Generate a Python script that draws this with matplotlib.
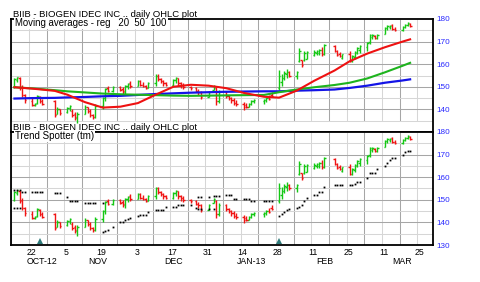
import numpy as np
import pandas as pd
import matplotlib
matplotlib.use("Agg")
import matplotlib.pyplot as plt
import matplotlib.dates as mdates

plt.rcParams['font.family'] = ['Liberation Sans', 'DejaVu Sans']

# ── data ─────────────────────────────────────────────────────
holidays = ['2012-10-29', '2012-10-30', '2012-11-22', '2012-12-25',
            '2013-01-01', '2013-01-21', '2013-02-18']
days = pd.bdate_range('2012-10-15', '2013-03-21')
days = days[~days.isin(pd.to_datetime(holidays))]

opens = [150.0, 153.2, 154.0, 150.0, 146.5, 143.5, 142.0, 142.8, 145.5, 143.5, 143.5,
         138.0, 140.0, 138.8, 140.5, 139.5, 138.0, 136.0, 138.0, 141.0, 139.5, 137.5,
         136.5, 141.5, 145.0, 149.5, 148.0, 150.0, 149.0, 147.5, 150.5, 151.5,
         150.5, 152.5, 151.0, 150.5, 149.5, 151.5, 155.0, 153.5, 152.5, 151.5,
         151.0, 153.0, 154.0, 151.5, 150.8, 150.0, 149.5, 148.0, 147.5, 145.5,
         148.5, 149.5, 143.5, 147.5, 146.0, 145.0, 144.0, 143.0, 142.5, 142.0,
         141.2, 142.5, 143.5, 143.5, 144.0, 145.0, 146.5, 149.5, 152.0, 154.0, 155.5,
         156.5, 155.0, 161.5, 162.0, 162.0, 162.5, 164.0, 165.0, 165.0, 166.5,
         164.5, 168.0, 166.0, 164.5, 162.8, 164.5, 161.5, 163.0, 165.0,
         166.5, 167.5, 170.0, 172.0, 172.5, 171.5, 173.5, 176.0, 176.5, 177.2,
         175.5, 175.0, 176.5, 177.5, 178.0]
highs = [154.0, 154.5, 154.3, 151.0, 147.0, 145.0, 143.0, 146.5, 146.0, 144.5, 144.0,
         141.0, 140.3, 141.0, 142.0, 140.0, 139.0, 139.0, 142.0, 141.2, 140.0, 138.0,
         142.5, 145.5, 149.5, 150.5, 150.5, 150.2, 150.0, 151.0, 151.8, 152.5,
         153.0, 153.0, 152.0, 151.0, 152.0, 155.5, 155.5, 154.0, 153.0, 152.0,
         153.5, 154.5, 154.0, 152.0, 151.5, 150.5, 150.0, 149.0, 148.0, 148.0,
         151.0, 150.0, 148.5, 148.0, 146.5, 145.5, 145.0, 144.0, 143.3, 143.0,
         143.0, 144.2, 144.7, 144.7, 145.5, 146.4, 147.7, 157.3, 155.5, 157.0, 158.0,
         156.8, 157.0, 167.0, 162.0, 166.0, 166.0, 166.3, 166.5, 166.8, 167.5,
         169.0, 168.4, 166.5, 165.4, 164.6, 166.0, 164.0, 166.0, 167.5,
         168.4, 169.8, 173.5, 173.5, 173.0, 173.5, 176.5, 177.2, 177.5, 177.8,
         176.5, 177.0, 177.9, 178.6, 178.3]
lows = [149.5, 152.0, 148.5, 145.5, 143.0, 141.5, 141.5, 142.5, 143.0, 142.0, 136.5,
        138.0, 137.5, 138.5, 139.5, 136.5, 135.5, 134.0, 138.0, 138.5, 136.5, 135.8,
        136.0, 140.0, 143.5, 147.5, 147.5, 148.0, 147.0, 146.5, 149.2, 149.5,
        150.5, 150.5, 149.8, 149.0, 149.5, 150.5, 152.5, 151.5, 150.5, 150.5,
        150.5, 151.5, 150.5, 149.5, 149.0, 148.7, 147.5, 146.5, 144.5, 145.5,
        148.5, 142.0, 143.0, 145.0, 144.0, 143.0, 142.0, 141.5, 139.7, 140.5,
        141.0, 142.0, 143.0, 142.5, 143.3, 144.2, 145.5, 148.5, 150.5, 153.0, 154.0,
        154.5, 153.5, 161.0, 158.8, 161.5, 162.4, 163.5, 164.0, 164.0, 163.5,
        164.0, 165.4, 163.5, 163.2, 162.4, 160.9, 161.0, 162.5, 164.5,
        165.0, 166.0, 169.0, 171.0, 171.0, 171.0, 173.5, 175.0, 175.5, 175.0,
        174.5, 174.5, 176.0, 176.8, 176.5]
closes = [153.5, 154.2, 149.5, 146.5, 144.0, 142.0, 142.6, 145.8, 143.8, 142.5, 137.5,
          140.3, 138.5, 140.5, 141.5, 137.5, 136.5, 138.0, 141.0, 139.5, 137.5, 136.5,
          141.5, 145.0, 149.0, 148.0, 150.0, 148.8, 148.0, 150.5, 151.3, 150.2,
          152.5, 151.0, 150.3, 149.5, 151.5, 155.0, 153.5, 152.5, 151.5, 151.0,
          153.0, 154.0, 151.5, 150.8, 150.0, 149.5, 148.0, 147.5, 145.5, 147.5,
          150.5, 143.5, 147.5, 146.0, 145.0, 144.0, 143.0, 142.5, 141.0, 141.2,
          142.5, 143.5, 144.3, 144.0, 145.0, 144.6, 146.0, 155.0, 154.0, 156.0, 156.5,
          155.0, 156.5, 166.0, 159.5, 165.0, 165.5, 165.5, 166.0, 166.3, 164.5,
          168.5, 166.0, 164.0, 163.5, 164.3, 161.5, 163.5, 165.5, 167.0,
          168.0, 169.5, 173.0, 172.8, 171.5, 173.0, 176.0, 176.8, 177.0, 175.5,
          175.0, 176.5, 177.5, 178.2, 177.0]

# moving averages read at weekly points
ma_dates = ['2012-10-15', '2012-10-22', '2012-10-31', '2012-11-05', '2012-11-12',
            '2012-11-19', '2012-11-26', '2012-12-03', '2012-12-10', '2012-12-17',
            '2012-12-24', '2012-12-31', '2013-01-07', '2013-01-14', '2013-01-22',
            '2013-01-28', '2013-02-04', '2013-02-11', '2013-02-19', '2013-02-25',
            '2013-03-04', '2013-03-11', '2013-03-18', '2013-03-21']
ma20 = [149.8, 149.2, 148.2, 146.5, 143.2, 140.8, 141.2, 142.8, 146.5, 150.0,
        150.9, 150.5, 149.4, 147.3, 145.6, 145.2, 148.3, 152.7, 157.2, 161.3,
        164.7, 167.5, 170.0, 171.0]
ma50 = [149.8, 149.3, 148.5, 148.0, 147.5, 147.0, 146.7, 146.5, 146.3, 146.1,
        146.0, 146.1, 146.2, 146.3, 146.4, 147.6, 148.8, 149.8, 150.8, 151.8,
        153.7, 156.4, 159.3, 160.6]
ma100 = [144.8, 145.0, 145.1, 145.3, 145.5, 145.8, 146.0, 146.4, 146.8, 147.1,
         147.4, 147.6, 147.8, 147.9, 148.0, 148.0, 148.3, 148.5, 148.8, 149.5,
         150.5, 151.8, 152.8, 153.3]

# trend spotter stops
ts_up_dates = ['2012-10-15', '2012-10-16', '2012-10-17', '2012-10-18', '2012-10-19',
               '2012-10-22', '2012-10-23', '2012-10-24', '2012-10-25', '2012-10-26',
               '2012-10-31', '2012-11-01', '2012-11-02', '2012-11-05', '2012-11-06',
               '2012-11-07', '2012-11-08', '2012-11-09', '2012-11-12', '2012-11-13',
               '2012-11-14', '2012-11-15', '2012-11-16', '2012-11-19',
               '2012-12-27', '2012-12-28', '2012-12-31', '2013-01-02', '2013-01-03',
               '2013-01-04', '2013-01-07', '2013-01-08', '2013-01-09', '2013-01-10',
               '2013-01-11', '2013-01-14', '2013-01-15', '2013-01-16', '2013-01-17',
               '2013-01-18', '2013-01-22', '2013-01-23', '2013-01-24', '2013-01-25']
ts_up = [154.3, 154.3, 154.3, 153.6, 153.6, 153.6, 153.6, 153.6, 153.6, 153.6,
         152.9, 152.9, 152.9, 151.4, 149.6, 149.6, 149.6, 149.6, 148.4, 148.4,
         148.4, 148.4, 148.4, 148.4,
         151.4, 151.4, 151.4, 151.7, 151.7, 151.7, 152.1, 152.1, 152.1, 150.5,
         150.5, 150.2, 150.2, 150.2, 149.6, 149.6, 149.6, 149.6, 149.6, 149.6]
ts_dn_dates = ['2012-10-15', '2012-10-16', '2012-10-17',
               '2012-11-19', '2012-11-20', '2012-11-21', '2012-11-23', '2012-11-26',
               '2012-11-27', '2012-11-28', '2012-11-29', '2012-11-30', '2012-12-03',
               '2012-12-04', '2012-12-05', '2012-12-06', '2012-12-07', '2012-12-10',
               '2012-12-11', '2012-12-12', '2012-12-13', '2012-12-14', '2012-12-17',
               '2012-12-18', '2012-12-19', '2012-12-20', '2012-12-21', '2012-12-24',
               '2012-12-26', '2012-12-27', '2012-12-28', '2012-12-31', '2013-01-02',
               '2013-01-28', '2013-01-29', '2013-01-30', '2013-01-31', '2013-02-01',
               '2013-02-04', '2013-02-05', '2013-02-06', '2013-02-07', '2013-02-08',
               '2013-02-11', '2013-02-12', '2013-02-13', '2013-02-14', '2013-02-15',
               '2013-02-19', '2013-02-20', '2013-02-21', '2013-02-22', '2013-02-25',
               '2013-02-26', '2013-02-27', '2013-02-28', '2013-03-01', '2013-03-04',
               '2013-03-05', '2013-03-06', '2013-03-07', '2013-03-08', '2013-03-11',
               '2013-03-12', '2013-03-13', '2013-03-14', '2013-03-15', '2013-03-18',
               '2013-03-19', '2013-03-20', '2013-03-21']
ts_dn = [146.5, 146.5, 146.5,
         135.9, 136.2, 136.6, 138.1, 140.0, 140.3, 141.0, 141.4, 142.0, 143.0,
         143.3, 143.3, 143.3, 144.7, 145.5, 145.5, 145.5, 145.5, 146.9, 146.9,
         146.9, 147.5, 147.5, 147.5, 147.5, 146.2, 146.0, 145.8, 145.8, 145.8,
         143.0, 143.5, 144.5, 145.3, 146.0, 146.2, 146.8, 147.7, 149.5, 150.6,
         152.1, 152.1, 153.6, 153.6, 155.8, 156.5, 156.5, 156.5, 156.5, 156.5,
         156.5, 157.2, 158.0, 158.0, 159.5, 161.7, 161.7, 161.7, 163.5, 165.0,
         166.2, 167.5, 168.4, 168.4, 169.9, 171.0, 171.4, 171.4]

event_dates = ['2012-10-25', '2013-01-28']

tick_days = pd.date_range('2012-10-22', '2013-03-25', freq='14D')
tick_labels = ['22', '5', '19', '3', '17', '31', '14', '28', '11', '25', '11', '25']
month_dates = ['2012-10-26', '2012-11-17', '2012-12-17', '2013-01-17', '2013-02-15', '2013-03-18']
month_labels = ['OCT-12', 'NOV', 'DEC', 'JAN-13', 'FEB', 'MAR']

# ── figure ───────────────────────────────────────────────────
RED, GREEN = "#f01414", "#14c814"
GRID_D, GRID_L = "#a6a6a6", "#d6d6d6"
LBLUE = "#2a2aff"

x = mdates.date2num(days)
o, h, l, c = map(np.array, (opens, highs, lows, closes))
bar_col = np.where(c >= o, GREEN, RED)

fig = plt.figure(figsize=(4.8, 2.82), dpi=100)
W, H = 480, 282
left, right = 10.7 / W, 433.3 / W
ax1 = fig.add_axes([left, 1 - 132 / H, right - left, 113 / H])
ax2 = fig.add_axes([left, 1 - 245 / H, right - left, 113 / H])

x0 = mdates.date2num(pd.Timestamp('2012-10-22'))
xlim = (x0 - 8.5, x0 + 159.2)
mondays = pd.date_range('2012-10-15', '2013-03-25', freq='W-MON')

for ax, ylo in ((ax1, 135), (ax2, 130)):
    ax.set_xlim(*xlim)
    ax.set_ylim(130, 180)
    for i, m in enumerate(mondays):
        col = GRID_D if i % 2 == 0 else GRID_L
        ax.vlines(mdates.date2num(m) - 1.2, ylo, 180, colors=col, lw=0.75, zorder=0)
    for yv in range(135, 180, 5):
        ax.axhline(yv, color=GRID_D if yv % 10 == 0 else GRID_L, lw=0.75, zorder=0)
    ax.vlines(x, l, h, colors=bar_col, lw=1.0, zorder=3)
    ax.hlines(o, x - 0.55, x, colors=bar_col, lw=1.0, zorder=3)
    ax.hlines(c, x, x + 0.55, colors=bar_col, lw=1.0, zorder=3)
    for s in ax.spines.values():
        s.set_linewidth(1.3)
    ax.yaxis.tick_right()
    ax.tick_params(axis='y', length=0, pad=2.6, labelsize=5.9, labelcolor=LBLUE)
    ax.tick_params(axis='x', length=0)

ax1.set_yticks([140, 150, 160, 170, 180])
ax2.set_yticks([130, 140, 150, 160, 170, 180])
ax1.set_xticks([])

# moving averages
mx = mdates.date2num(pd.to_datetime(ma_dates))
ax1.plot(mx, ma100, color="#1414e6", lw=1.6, zorder=4)
ax1.plot(mx, ma50, color="#1eb41e", lw=1.5, zorder=4)
ax1.plot(mx, ma20, color="#ee1111", lw=1.5, zorder=5)

# trend spotter
ax2.plot(mdates.date2num(pd.to_datetime(ts_up_dates)), ts_up, 's', color='black',
         ms=1.3, mew=0, zorder=4)
ax2.plot(mdates.date2num(pd.to_datetime(ts_dn_dates)), ts_dn, 's', color='black',
         ms=1.3, mew=0, zorder=4)
ax2.plot(mdates.date2num(pd.to_datetime(event_dates)), [131.6, 131.6], '^',
         color="#2e7a7a", ms=4.5, mew=0, zorder=6, clip_on=False)

ax2.set_xticks(mdates.date2num(tick_days) - 0.45)
ax2.set_xticklabels(tick_labels, fontsize=6.3)
ax2.tick_params(axis='x', pad=2.2)
for d, lab in zip(month_dates, month_labels):
    ax2.text(mdates.date2num(pd.Timestamp(d)), -0.148, lab, ha='center', va='center',
             fontsize=6.3, transform=ax2.get_xaxis_transform())

# captions
title = "BIIB - BIOGEN IDEC INC .. daily OHLC plot"
fig.text(12.7 / W, 1 - 17.3 / H, title, fontsize=6.8, va='baseline')
fig.text(12.7 / W, 1 - 130.3 / H, title, fontsize=6.8, va='baseline')
ax1.text(0.011, 0.935, "Moving averages - reg   20  50  100", transform=ax1.transAxes,
         fontsize=6.9, va='baseline', zorder=7,
         bbox=dict(facecolor='white', edgecolor='none', pad=0.6))
ax2.text(0.011, 0.935, "Trend Spotter (tm)", transform=ax2.transAxes,
         fontsize=7.0, va='baseline', zorder=7,
         bbox=dict(facecolor='white', edgecolor='none', pad=0.6))

fig.savefig("out.png", dpi=100)
